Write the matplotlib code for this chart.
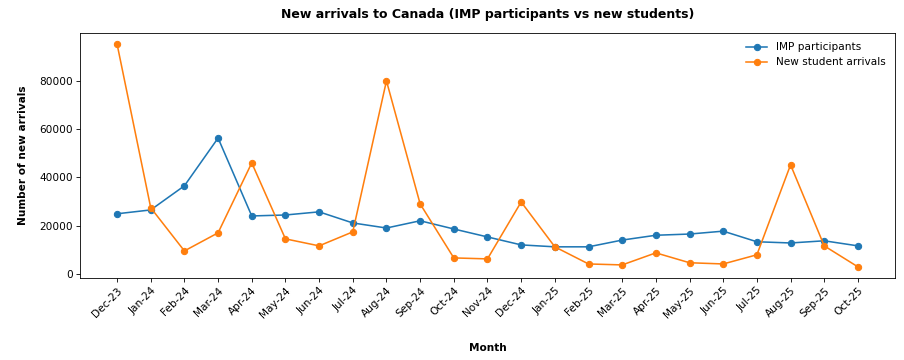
import matplotlib
matplotlib.use("Agg")
import matplotlib.pyplot as plt

months = ["Dec-23", "Jan-24", "Feb-24", "Mar-24", "Apr-24", "May-24", "Jun-24", "Jul-24",
          "Aug-24", "Sep-24", "Oct-24", "Nov-24", "Dec-24", "Jan-25", "Feb-25", "Mar-25",
          "Apr-25", "May-25", "Jun-25", "Jul-25", "Aug-25", "Sep-25", "Oct-25"]
imp = [24900, 26500, 36500, 56300, 24000, 24400, 25700, 21100, 19000, 22000, 18600, 15300,
       12000, 11200, 11200, 14000, 16000, 16500, 17700, 13300, 12800, 13700, 11600]
students = [95300, 27400, 9500, 17000, 46000, 14500, 11600, 17400, 80000, 29000, 6600, 6200,
            29800, 11200, 4100, 3700, 8700, 4600, 4100, 7900, 45200, 11600, 2900]

dpi = 904 / 12
fig = plt.figure(figsize=(12, 360 / dpi), dpi=dpi)
ax = fig.add_axes([0.0885, 0.2278, 0.9015, 0.681])
x = list(range(len(months)))
ax.plot(x, imp, marker="o", color="#1f77b4", label="IMP participants")
ax.plot(x, students, marker="o", color="#ff7f0e", label="New student arrivals")
ax.set_xticks(x)
ax.set_xticklabels(months, rotation=45, ha="right", rotation_mode="anchor")
ax.set_title("New arrivals to Canada (IMP participants vs new students)", fontweight="bold", fontsize=12, pad=14)
ax.set_xlabel("Month", fontweight="bold", labelpad=22)
ax.set_ylabel("Number of new arrivals", fontweight="bold", labelpad=10)
ax.legend(frameon=False, loc="upper right")
fig.savefig("out.png", dpi=dpi)
